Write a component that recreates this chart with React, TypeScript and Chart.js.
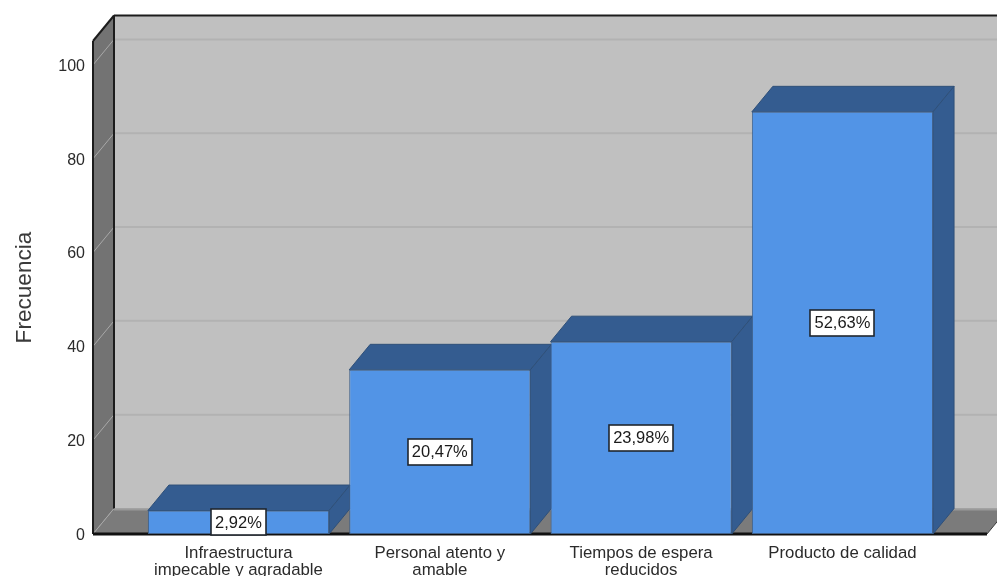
import { useEffect, useRef } from "react";
import { Chart, registerables } from "chart.js";

Chart.register(...registerables);

const categories: string[][] = [
  ["Infraestructura", "impecable y agradable"],
  ["Personal atento y", "amable"],
  ["Tiempos de espera", "reducidos"],
  ["Producto de calidad"],
];
const frequencies: number[] = [5, 35, 41, 90];
const percentLabels: string[] = ["2,92%", "20,47%", "23,98%", "52,63%"];

const FONT = "'Liberation Sans', Arial, sans-serif";
const TEXT = "#2b2b2b";
const DEPTH_X = 21;
const DEPTH_Y = 25.5;

function poly(ctx: CanvasRenderingContext2D, pts: number[][], fill: string, stroke?: string) {
  ctx.beginPath();
  pts.forEach(([x, y], i) => (i ? ctx.lineTo(x, y) : ctx.moveTo(x, y)));
  ctx.closePath();
  ctx.fillStyle = fill;
  ctx.fill();
  if (stroke) {
    ctx.strokeStyle = stroke;
    ctx.lineWidth = 1;
    ctx.stroke();
  }
}

function segment(ctx: CanvasRenderingContext2D, x1: number, y1: number, x2: number, y2: number, color: string, width: number) {
  ctx.beginPath();
  ctx.moveTo(x1, y1);
  ctx.lineTo(x2, y2);
  ctx.strokeStyle = color;
  ctx.lineWidth = width;
  ctx.stroke();
}

// Back wall, side wall, floor and the extruded faces of every bar.
const extrusion = {
  id: "extrusion",
  beforeDatasetsDraw(chart: any) {
    const { ctx, chartArea: a, scales } = chart;
    const y = scales.y;
    const dx = DEPTH_X;
    const dy = DEPTH_Y;
    ctx.save();
    ctx.fillStyle = "#c0c0c0";
    ctx.fillRect(a.left + dx, a.top - dy, a.right - a.left, a.bottom - a.top);
    poly(ctx, [[a.left, a.top], [a.left + dx, a.top - dy], [a.left + dx, a.bottom - dy], [a.left, a.bottom]], "#737373");
    poly(ctx, [[a.left, a.bottom], [a.left + dx, a.bottom - dy], [a.right + dx, a.bottom - dy], [a.right, a.bottom]], "#7b7b7b");

    y.ticks.forEach((t: any) => {
      const py = y.getPixelForValue(t.value);
      if (t.value > 0) segment(ctx, a.left + dx, py - dy, a.right + dx, py - dy, "#b2b2b2", 2);
      segment(ctx, a.left, py, a.left + dx, py - dy, "#a8a8a8", 1);
    });

    segment(ctx, a.left + dx, a.top - dy, a.right + dx, a.top - dy, "#1c1c1c", 2);
    segment(ctx, a.left + dx, a.top - dy, a.left + dx, a.bottom - dy, "#1c1c1c", 2);
    segment(ctx, a.left + dx, a.bottom - dy + 1, a.right + dx, a.bottom - dy + 1, "#9a9a9a", 2);
    segment(ctx, a.left, a.top, a.left + dx, a.top - dy, "#1c1c1c", 2);
    segment(ctx, a.left, a.top, a.left, a.bottom, "#1c1c1c", 2);
    segment(ctx, a.left, a.bottom, a.right, a.bottom, "#111111", 3);
    segment(ctx, a.right, a.bottom, a.right + dx, a.bottom - dy, "#3a3a3a", 1);

    const bars = chart.getDatasetMeta(0).data;
    bars.forEach((bar: any) => {
      const { x, y: top, base, width } = bar.getProps(["x", "y", "base", "width"], true);
      const l = x - width / 2;
      const r = x + width / 2;
      const edge = "#2f5079";
      poly(ctx, [[l, top], [l + dx, top - dy], [r + dx, top - dy], [r, top]], "#345c90", edge);
      poly(ctx, [[r, top], [r + dx, top - dy], [r + dx, base - dy], [r, base]], "#345c90", edge);
    });
    ctx.restore();
  },
  // Percentage captions in white boxes, centred on each bar's front face.
  afterDatasetsDraw(chart: any) {
    const { ctx } = chart;
    const bars = chart.getDatasetMeta(0).data;
    ctx.save();
    ctx.font = `16.5px ${FONT}`;
    ctx.textAlign = "center";
    ctx.textBaseline = "middle";
    bars.forEach((bar: any, i: number) => {
      const { x, y: top, base } = bar.getProps(["x", "y", "base"], true);
      const cy = (top + base) / 2;
      const label = percentLabels[i];
      const w = Math.round(ctx.measureText(label).width) + 8;
      const h = 26;
      const left = Math.round(x - w / 2);
      const upper = Math.round(cy - h / 2);
      ctx.fillStyle = "#ffffff";
      ctx.fillRect(left, upper, w, h);
      ctx.strokeStyle = "#20262e";
      ctx.lineWidth = 1.6;
      ctx.strokeRect(left, upper, w, h);
      ctx.fillStyle = "#1a1a1a";
      ctx.fillText(label, x, cy + 1);
    });
    ctx.restore();
  },
};

export default function App() {
  const ref = useRef<HTMLCanvasElement>(null);

  useEffect(() => {
    document.body.style.margin = "0";
    const chart = new Chart(ref.current!, {
      type: "bar",
      data: {
        datasets: [
          {
            label: "Frecuencia",
            data: frequencies.map((v, i) => ({ x: i, y: v })),
            backgroundColor: "#5294e6",
            borderColor: "#3f6089",
            borderWidth: 1,
            borderSkipped: false,
            categoryPercentage: 0.9,
            barPercentage: 1,
          },
        ],
      },
      options: {
        responsive: false,
        animation: false,
        layout: { padding: { top: 41, right: 10, left: 0, bottom: 0 } },
        plugins: { legend: { display: false }, tooltip: { enabled: false } },
        scales: {
          x: {
            type: "linear",
            offset: false,
            min: -0.7227,
            max: 3.718,
            afterBuildTicks(scale: any) {
              scale.ticks = categories.map((_, i) => ({ value: i }));
            },
            afterFit(scale: any) {
              scale.height = 42;
            },
            grid: { display: false, drawTicks: false },
            border: { display: false },
            ticks: {
              autoSkip: false,
              maxRotation: 0,
              padding: 11,
              color: TEXT,
              font: { family: FONT, size: 16.8, lineHeight: 1 },
              callback: (v: any) => categories[v as number] ?? "",
            },
          },
          y: {
            min: 0,
            max: 105.1,
            afterBuildTicks(scale: any) {
              scale.ticks = [0, 20, 40, 60, 80, 100].map((value) => ({ value }));
            },
            afterFit(scale: any) {
              scale.width = 93;
            },
            grid: { display: false, drawTicks: false },
            border: { display: false },
            title: {
              display: true,
              text: "Frecuencia",
              color: "#3a3a3a",
              font: { family: FONT, size: 22.6 },
              padding: { top: 11, bottom: 0 },
            },
            ticks: { padding: 8, labelOffset: 1.5, color: TEXT, font: { family: FONT, size: 16 } },
          },
        },
      },
      plugins: [extrusion],
    } as any);
    return () => chart.destroy();
  }, []);

  return <canvas ref={ref} width={997} height={576} style={{ display: "block" }} />;
}
